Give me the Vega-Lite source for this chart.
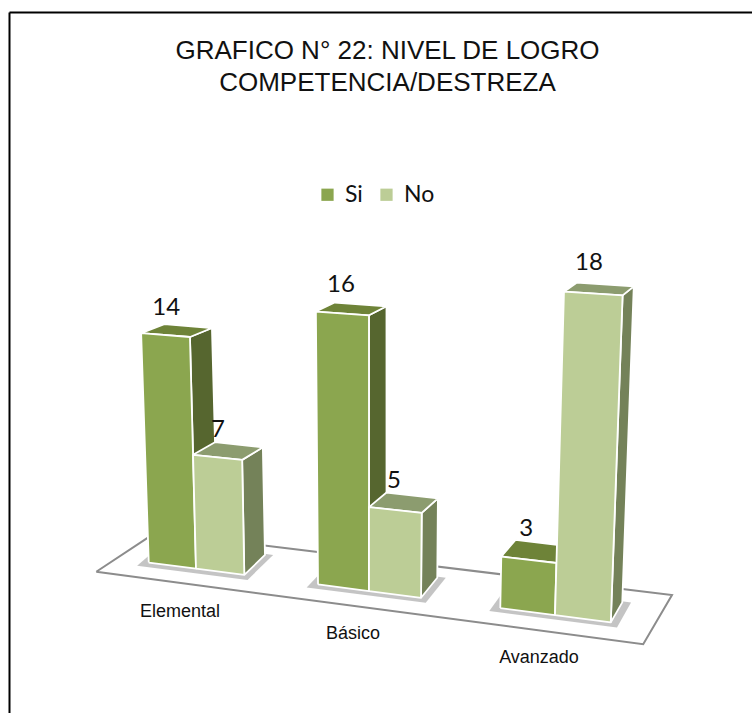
{
"$schema":"https://vega.github.io/schema/vega-lite/v6.json",
"width":752,"height":713,"padding":0,"autosize":"none",
"background":"white",
"view":{"stroke":null},
"datasets":{
"bars":[
{"cat":"Elemental","c":0,"serie":"Si","value":14},
{"cat":"Elemental","c":0,"serie":"No","value":7},
{"cat":"Básico","c":1,"serie":"Si","value":16},
{"cat":"Básico","c":1,"serie":"No","value":5},
{"cat":"Avanzado","c":2,"serie":"Si","value":3},
{"cat":"Avanzado","c":2,"serie":"No","value":18}
],
"floor":[
{"corner":0,"u":-0.51,"d":-0.69},
{"corner":1,"u":-0.44,"d":1.35},
{"corner":2,"u":2.51,"d":1.65},
{"corner":3,"u":2.495,"d":-0.83},
{"corner":4,"u":-0.51,"d":-0.69}
],
"heading":[
{"line":"GRAFICO N° 22: NIVEL DE LOGRO","at":387.5,"base":59},
{"line":"COMPETENCIA/DESTREZA","at":387.5,"base":91}
]
},
"layer":[
{
"data":{"name":"floor"},
"transform":[
{"calculate":"196+166.5*datum.u+6.5*datum.u*datum.u","as":"xb"},
{"calculate":"568.7+0.1293*(datum.xb-196)-datum.d*20","as":"py"},
{"calculate":"datum.xb+datum.d*(18-0.025*(datum.xb-350))","as":"px"}
],
"mark":{"type":"line","stroke":"#8c8c8c","strokeWidth":2,"strokeJoin":"miter"},
"encoding":{
"x":{"field":"px","type":"quantitative","scale":{"domain":[0,752],"nice":false,"zero":false},"axis":null},
"y":{"field":"py","type":"quantitative","scale":{"domain":[713,0],"nice":false,"zero":false},"axis":null},
"order":{"field":"corner"}
}
},
{
"data":{"name":"bars"},
"transform":[
{"filter":"datum.serie=='Si'"},
{"calculate":"[0,1,2,3,4]","as":"ks"},
{"flatten":["ks"],"as":["k"]},
{"calculate":"datum.c-0.33+[0,0.66,0.66,0,0][datum.k]","as":"u"},
{"calculate":"-0.2+[0,0,1.25,1.25,0][datum.k]","as":"d"},
{"calculate":"196+166.5*datum.u+6.5*datum.u*datum.u","as":"xb"},
{"calculate":"568.7+0.1293*(datum.xb-196)-datum.d*20","as":"py"},
{"calculate":"datum.xb+datum.d*(18-0.025*(datum.xb-350))","as":"px"}
],
"mark":{"type":"line","filled":true,"fill":"#8a8a8a","fillOpacity":0.5,"stroke":null,"strokeWidth":0},
"encoding":{
"x":{"field":"px","type":"quantitative","scale":{"domain":[0,752],"nice":false,"zero":false},"axis":null},
"y":{"field":"py","type":"quantitative","scale":{"domain":[713,0],"nice":false,"zero":false},"axis":null},
"detail":{"field":"cat"},
"order":{"field":"k"}
}
},
{
"data":{"name":"bars"},
"transform":[
{"calculate":"['side','top','front']","as":"faces"},
{"flatten":["faces"],"as":["face"]},
{"calculate":"[0,1,2,3,4]","as":"ks"},
{"flatten":["ks"],"as":["k"]},
{"calculate":"datum.face=='side'?1:[0,1,1,0,0][datum.k]","as":"ut"},
{"calculate":"datum.face=='front'?0:(datum.face=='side'?[0,1,1,0,0][datum.k]:[0,0,1,1,0][datum.k])","as":"dt"},
{"calculate":"datum.face=='top'?1:[0,0,1,1,0][datum.k]","as":"ht"},
{"calculate":"datum.c+(datum.serie=='No'?0:-0.287)+datum.ut*0.287","as":"u"},
{"calculate":"196+166.5*datum.u+6.5*datum.u*datum.u","as":"xb"},
{"calculate":"datum.ht*datum.value*(16.6+0.0035*(datum.xb-370)+0.04*datum.value)","as":"H"},
{"calculate":"datum.xb+(datum.xb-370)*0.00015*datum.H","as":"xf"},
{"calculate":"datum.xf+datum.dt*(18-0.025*(datum.xf-350))","as":"px"},
{"calculate":"568.7+0.1293*(datum.xb-196)-datum.H-datum.dt*max(9,20-0.065*datum.H)","as":"py"},
{"calculate":"datum.face=='front'?datum.serie:datum.serie+' '+datum.face","as":"shade"},
{"calculate":"datum.cat+datum.serie+datum.face","as":"poly"}
],
"mark":{"type":"line","filled":true,"stroke":"white","strokeWidth":1.8,"strokeJoin":"round"},
"encoding":{
"x":{"field":"px","type":"quantitative","scale":{"domain":[0,752],"nice":false,"zero":false},"axis":null},
"y":{"field":"py","type":"quantitative","scale":{"domain":[713,0],"nice":false,"zero":false},"axis":null},
"detail":{"field":"poly"},
"order":{"field":"k"},
"color":{"field":"shade","type":"nominal","sort":null,
"scale":{"domain":["Si","No","Si top","No top","Si side","No side"],"range":["#8ba64f","#bccd96","#6e8338","#8c9c6f","#56662f","#748259"]},
"legend":{"title":null,"values":["Si","No"],"orient":"none","legendX":316,"legendY":183,"direction":"horizontal","columns":2,"symbolType":"square","symbolSize":150,"symbolStrokeWidth":0,"labelFont":"Lato","labelFontSize":23,"labelColor":"#111111","columnPadding":12,"labelOffset":6}}
}
},
{
"data":{"name":"bars"},
"transform":[
{"calculate":"datum.c+(datum.serie=='No'?0:-0.287)","as":"u"},
{"calculate":"196+166.5*datum.u+6.5*datum.u*datum.u","as":"xb"},
{"calculate":"datum.value*(16.6+0.0035*(datum.xb-370)+0.04*datum.value)","as":"H"},
{"calculate":"datum.xb+(datum.xb-370)*0.00015*datum.H+25","as":"px"},
{"calculate":"568.7+0.1293*(datum.xb-196)-datum.H-max(9,20-0.065*datum.H)-9-0.032*datum.H","as":"py"}
],
"mark":{"type":"text","font":"Lato","fontSize":24,"color":"#111111","baseline":"middle","align":"center"},
"encoding":{
"x":{"field":"px","type":"quantitative","scale":{"domain":[0,752],"nice":false,"zero":false},"axis":null},
"y":{"field":"py","type":"quantitative","scale":{"domain":[713,0],"nice":false,"zero":false},"axis":null},
"text":{"field":"value","type":"quantitative"}
}
},
{
"data":{"name":"bars"},
"transform":[
{"filter":"datum.serie=='Si'"},
{"calculate":"196+166.5*datum.c+6.5*datum.c*datum.c","as":"xb"},
{"calculate":"datum.xb-16","as":"px"},
{"calculate":"568.7+0.1293*(datum.xb-196)+43","as":"py"}
],
"mark":{"type":"text","font":"Liberation Sans","fontSize":18,"color":"#111111","baseline":"middle","align":"center"},
"encoding":{
"x":{"field":"px","type":"quantitative","scale":{"domain":[0,752],"nice":false,"zero":false},"axis":null},
"y":{"field":"py","type":"quantitative","scale":{"domain":[713,0],"nice":false,"zero":false},"axis":null},
"text":{"field":"cat","type":"nominal"}
}
},
{
"data":{"name":"heading"},
"mark":{"type":"text","font":"Liberation Sans","fontSize":26,"color":"#111111","baseline":"alphabetic","align":"center"},
"encoding":{
"x":{"field":"at","type":"quantitative","scale":{"domain":[0,752],"nice":false,"zero":false},"axis":null},
"y":{"field":"base","type":"quantitative","scale":{"domain":[713,0],"nice":false,"zero":false},"axis":null},
"text":{"field":"line","type":"nominal"}
}
},
{
"data":{"values":[{"side":"left","at":9.5,"from":12.5,"to":713}]},
"mark":{"type":"rule","color":"#000000","strokeWidth":2},
"encoding":{
"x":{"field":"at","type":"quantitative","scale":{"domain":[0,752],"nice":false,"zero":false},"axis":null},
"y":{"field":"from","type":"quantitative","scale":{"domain":[713,0],"nice":false,"zero":false},"axis":null},
"y2":{"field":"to"}
}
},
{
"data":{"values":[{"at":12.5,"from":9.5,"to":752}]},
"mark":{"type":"rule","color":"#000000","strokeWidth":2},
"encoding":{
"y":{"field":"at","type":"quantitative","scale":{"domain":[713,0],"nice":false,"zero":false},"axis":null},
"x":{"field":"from","type":"quantitative","scale":{"domain":[0,752],"nice":false,"zero":false},"axis":null},
"x2":{"field":"to"}
}
}
]
}
